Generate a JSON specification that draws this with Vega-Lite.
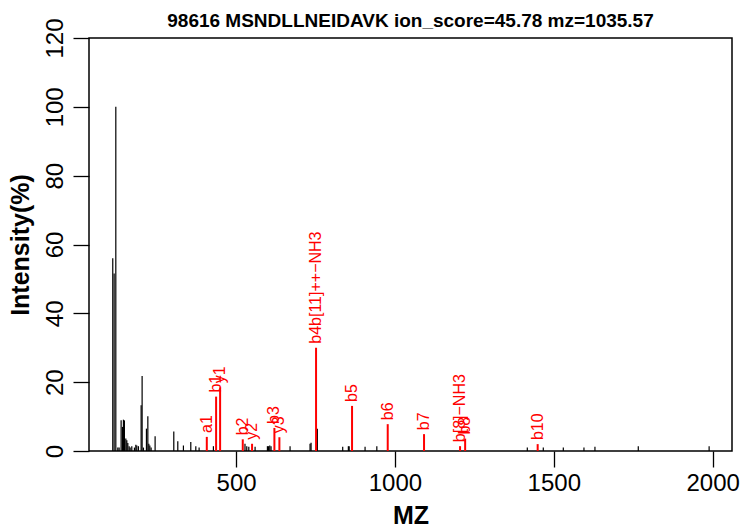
{
  "$schema": "https://vega.github.io/schema/vega-lite/v6.json",
  "width": 643,
  "height": 413,
  "autosize": {"type": "none"},
  "padding": {"left": 89, "top": 38, "right": 11, "bottom": 76},
  "background": "white",
  "title": {
    "text": "98616 MSNDLLNEIDAVK ion_score=45.78 mz=1035.57",
    "font": "Liberation Sans",
    "fontSize": 19,
    "fontWeight": "bold",
    "color": "black",
    "anchor": "middle",
    "frame": "group",
    "baseline": "alphabetic",
    "offset": -28
  },
  "config": {
    "view": {"stroke": "black", "strokeWidth": 1.5},
    "axis": {
      "domain": false,
      "grid": false,
      "tickColor": "black",
      "tickWidth": 1.3,
      "tickSize": 16,
      "labelFont": "Liberation Sans",
      "labelFontSize": 24,
      "labelColor": "black",
      "titleFont": "Liberation Sans",
      "titleFontSize": 25,
      "titleFontWeight": "bold",
      "titleColor": "black",
      "labelOverlap": false,
      "labelFlush": false
    }
  },
  "data": {
    "values": [
      {"mz": 111.8, "inten": 56, "type": "other", "label": ""},
      {"mz": 116.1, "inten": 51.6, "type": "other", "label": ""},
      {"mz": 121.4, "inten": 100, "type": "other", "label": ""},
      {"mz": 127.7, "inten": 1.0, "type": "other", "label": ""},
      {"mz": 131.8, "inten": 1.0, "type": "other", "label": ""},
      {"mz": 138.1, "inten": 8.9, "type": "other", "label": ""},
      {"mz": 142.2, "inten": 7.0, "type": "other", "label": ""},
      {"mz": 145.4, "inten": 9.1, "type": "other", "label": ""},
      {"mz": 148.5, "inten": 8.9, "type": "other", "label": ""},
      {"mz": 152.9, "inten": 3.6, "type": "other", "label": ""},
      {"mz": 156.0, "inten": 3.1, "type": "other", "label": ""},
      {"mz": 159.2, "inten": 2.3, "type": "other", "label": ""},
      {"mz": 163.3, "inten": 1.4, "type": "other", "label": ""},
      {"mz": 166.5, "inten": 1.0, "type": "other", "label": ""},
      {"mz": 171.7, "inten": 1.4, "type": "other", "label": ""},
      {"mz": 180.0, "inten": 1.0, "type": "other", "label": ""},
      {"mz": 184.4, "inten": 1.8, "type": "other", "label": ""},
      {"mz": 187.5, "inten": 1.6, "type": "other", "label": ""},
      {"mz": 192.6, "inten": 1.4, "type": "other", "label": ""},
      {"mz": 201.1, "inten": 13.3, "type": "other", "label": ""},
      {"mz": 204.2, "inten": 21.8, "type": "other", "label": ""},
      {"mz": 208.4, "inten": 1.0, "type": "other", "label": ""},
      {"mz": 217.8, "inten": 6.5, "type": "other", "label": ""},
      {"mz": 222.2, "inten": 10.1, "type": "other", "label": ""},
      {"mz": 225.3, "inten": 2.1, "type": "other", "label": ""},
      {"mz": 228.5, "inten": 1.6, "type": "other", "label": ""},
      {"mz": 232.5, "inten": 1.0, "type": "other", "label": ""},
      {"mz": 245.1, "inten": 4.3, "type": "other", "label": ""},
      {"mz": 303.9, "inten": 5.7, "type": "other", "label": ""},
      {"mz": 316.5, "inten": 2.8, "type": "other", "label": ""},
      {"mz": 334.2, "inten": 1.6, "type": "other", "label": ""},
      {"mz": 357.4, "inten": 2.6, "type": "other", "label": ""},
      {"mz": 373.2, "inten": 1.4, "type": "other", "label": ""},
      {"mz": 383.6, "inten": 1.0, "type": "other", "label": ""},
      {"mz": 428.6, "inten": 1.4, "type": "other", "label": ""},
      {"mz": 528.0, "inten": 2.1, "type": "other", "label": ""},
      {"mz": 533.6, "inten": 1.4, "type": "other", "label": ""},
      {"mz": 540.0, "inten": 1.2, "type": "other", "label": ""},
      {"mz": 559.8, "inten": 1.2, "type": "other", "label": ""},
      {"mz": 598.6, "inten": 1.4, "type": "other", "label": ""},
      {"mz": 602.0, "inten": 1.4, "type": "other", "label": ""},
      {"mz": 606.0, "inten": 1.6, "type": "other", "label": ""},
      {"mz": 610.0, "inten": 1.4, "type": "other", "label": ""},
      {"mz": 669.9, "inten": 1.4, "type": "other", "label": ""},
      {"mz": 732.8, "inten": 2.1, "type": "other", "label": ""},
      {"mz": 736.0, "inten": 2.4, "type": "other", "label": ""},
      {"mz": 755.8, "inten": 6.5, "type": "other", "label": ""},
      {"mz": 835.6, "inten": 1.2, "type": "other", "label": ""},
      {"mz": 853.4, "inten": 1.4, "type": "other", "label": ""},
      {"mz": 856.0, "inten": 1.4, "type": "other", "label": ""},
      {"mz": 906.0, "inten": 1.2, "type": "other", "label": ""},
      {"mz": 943.0, "inten": 1.4, "type": "other", "label": ""},
      {"mz": 1416.7, "inten": 1.0, "type": "other", "label": ""},
      {"mz": 1467.0, "inten": 1.0, "type": "other", "label": ""},
      {"mz": 1530.0, "inten": 1.0, "type": "other", "label": ""},
      {"mz": 1595.0, "inten": 1.0, "type": "other", "label": ""},
      {"mz": 1629.6, "inten": 1.2, "type": "other", "label": ""},
      {"mz": 1766.0, "inten": 1.4, "type": "other", "label": ""},
      {"mz": 1989.0, "inten": 1.4, "type": "other", "label": ""},
      {"mz": 407.8, "inten": 4.1, "type": "ion", "label": "a1"},
      {"mz": 437.1, "inten": 15.8, "type": "ion", "label": "b1"},
      {"mz": 449.7, "inten": 18.5, "type": "ion", "label": "y1"},
      {"mz": 521.0, "inten": 3.4, "type": "ion", "label": "b2"},
      {"mz": 550.3, "inten": 2.1, "type": "ion", "label": "y2"},
      {"mz": 620.6, "inten": 6.7, "type": "ion", "label": "b3"},
      {"mz": 636.3, "inten": 4.0, "type": "ion", "label": "y3"},
      {"mz": 751.7, "inten": 30.0, "type": "ion", "label": "b4b[11]++−NH3"},
      {"mz": 865.0, "inten": 13.1, "type": "ion", "label": "b5"},
      {"mz": 977.3, "inten": 7.8, "type": "ion", "label": "b6"},
      {"mz": 1091.6, "inten": 4.9, "type": "ion", "label": "b7"},
      {"mz": 1205.0, "inten": 1.4, "type": "ion", "label": "b[8]−NH3"},
      {"mz": 1221.0, "inten": 3.6, "type": "ion", "label": "b8"},
      {"mz": 1449.3, "inten": 2.0, "type": "ion", "label": "b10"}
    ]
  },
  "encoding": {
    "x": {
      "field": "mz",
      "type": "quantitative",
      "scale": {"domain": [37, 2061], "nice": false, "zero": false},
      "axis": {"values": [500, 1000, 1500, 2000], "format": "d", "title": "MZ", "labelPadding": 4, "titlePadding": 8}
    },
    "y": {
      "field": "inten",
      "type": "quantitative",
      "scale": {"domain": [0, 120], "nice": false},
      "axis": {"values": [0, 20, 40, 60, 80, 100, 120], "title": "Intensity(%)", "labelAngle": -90, "labelAlign": "center", "labelBaseline": "bottom", "labelPadding": 6, "titlePadding": 10}
    }
  },
  "layer": [
    {
      "transform": [{"filter": "datum.type === 'other'"}],
      "mark": {"type": "rule", "color": "black", "strokeWidth": 1.2},
      "encoding": {"y2": {"datum": 0}}
    },
    {
      "transform": [{"filter": "datum.type === 'ion'"}],
      "mark": {"type": "rule", "color": "#ff0000", "strokeWidth": 2},
      "encoding": {"y2": {"datum": 0}}
    },
    {
      "transform": [{"filter": "datum.type === 'ion'"}],
      "mark": {"type": "text", "color": "#ff0000", "font": "Liberation Sans", "fontSize": 16, "angle": 270, "align": "left", "baseline": "middle", "dx": 4},
      "encoding": {"text": {"field": "label"}}
    }
  ]
}
